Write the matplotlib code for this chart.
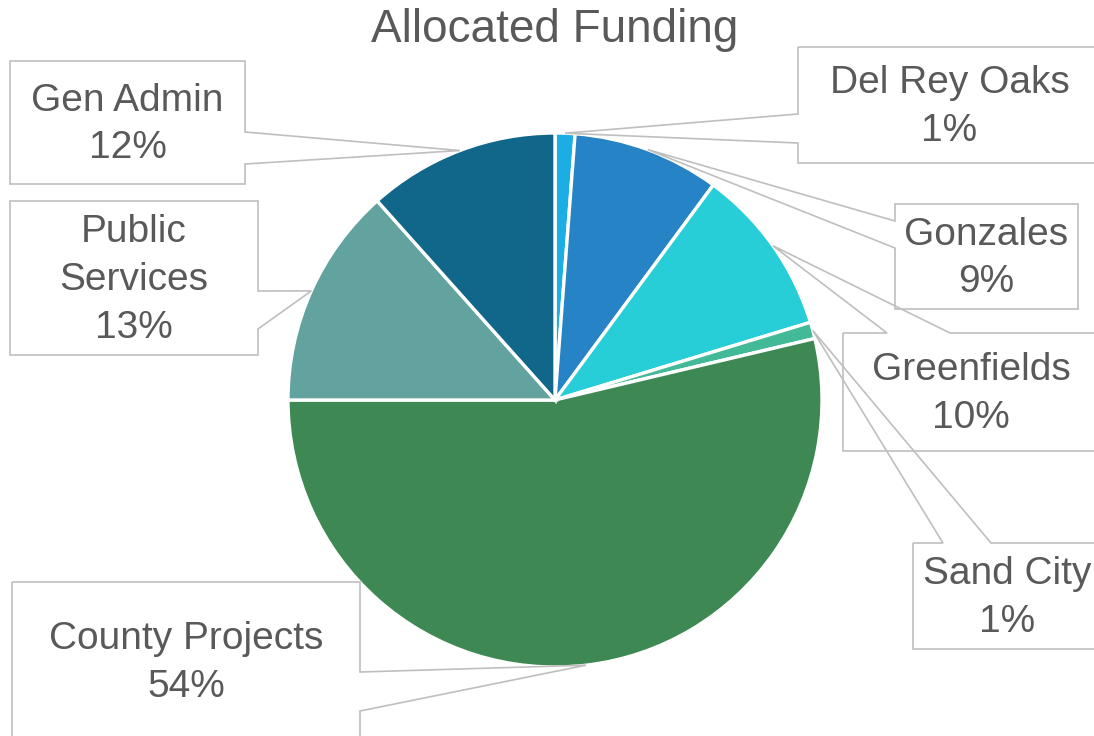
import numpy as np
import matplotlib
matplotlib.use('Agg')
import matplotlib.pyplot as plt
from matplotlib.patches import Polygon

# data (percent of allocated funding)
categories = ['Del Rey Oaks', 'Gonzales', 'Greenfields', 'Sand City',
              'County Projects', 'Public Services', 'Gen Admin']
label_names = ['Del Rey Oaks', 'Gonzales', 'Greenfields', 'Sand City',
               'County Projects', 'Public\nServices', 'Gen Admin']
shares = [1.2, 8.9, 10.2, 1.0, 53.7, 13.4, 11.6]
colors = ['#1CADE4', '#2683C6', '#27CED7', '#42BA97',
          '#3E8853', '#62A39F', '#10678A']

# callout boxes in pixel layout: (left, top, right, bottom), side of the tail, tail base span
boxes = [(798, 47, 1101, 163), (895, 204, 1078, 309), (843, 333, 1099, 451),
         (913, 543, 1101, 649), (12, 582, 360, 740), (10, 201, 258, 355),
         (10, 61, 245, 184)]
tail_side = ['left', 'left', 'top', 'top', 'right', 'right', 'right']
tail_base = [(114, 143), (221, 248), (887, 950), (943, 991),
             (672, 711), (291, 329), (132, 164)]

plt.rcParams['font.family'] = ['Liberation Sans', 'DejaVu Sans']
text_color = '#595959'
edge_gray = '#BFBFBF'

W, H = 1094, 736
cx, cy, r = 555, 400, 267

fig = plt.figure(figsize=(W / 100, H / 100), dpi=100)
ax = fig.add_axes([0, 0, 1, 1])

# y axis is inverted, so counterclockwise in data is clockwise on screen
wedges, _ = ax.pie(shares, colors=colors, startangle=-90, counterclock=True,
                   center=(cx, cy), radius=r,
                   wedgeprops=dict(edgecolor='white', linewidth=2.4))
ax.set_xlim(0, W)
ax.set_ylim(H, 0)
ax.set_aspect('equal')
ax.axis('off')

total = sum(shares)
cum = np.cumsum([0] + shares)
for i, name in enumerate(label_names):
    mid = np.deg2rad(-90 + 360 * (cum[i] + cum[i + 1]) / 2 / total)
    tip = (cx + r * np.cos(mid), cy + r * np.sin(mid))
    x0, y0, x1, y1 = boxes[i]
    b0, b1 = tail_base[i]
    side = tail_side[i]
    if side == 'left':
        pts = [(x0, y0), (x1, y0), (x1, y1), (x0, y1), (x0, b1), tip, (x0, b0)]
    elif side == 'right':
        pts = [(x0, y0), (x1, y0), (x1, b0), tip, (x1, b1), (x1, y1), (x0, y1)]
    else:
        pts = [(x0, y0), (b0, y0), tip, (b1, y0), (x1, y0), (x1, y1), (x0, y1)]
    ax.add_patch(Polygon(pts, closed=True, facecolor='none', edgecolor=edge_gray,
                         linewidth=1.2, zorder=3))
    pct = f'{shares[i] / total * 100:.0f}%'
    ax.text((x0 + x1) / 2, (y0 + y1) / 2 + 2, f'{name}\n{pct}', ha='center', va='center',
            fontsize=28, color=text_color, linespacing=1.42, zorder=4)

ax.text(cx, 30, 'Allocated Funding', ha='center', va='center', fontsize=33,
        color=text_color)

fig.savefig('out.png', dpi=100)
